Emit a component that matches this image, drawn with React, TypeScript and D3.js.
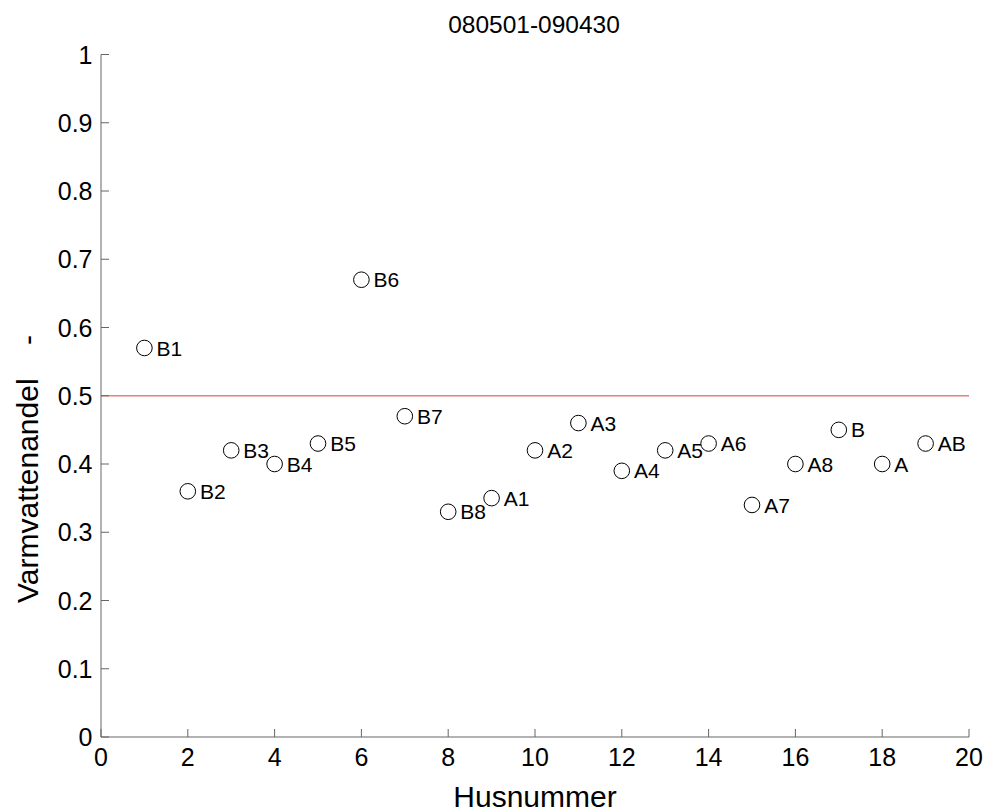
import React from "react";
import * as d3 from "d3";

const labels = ["B1","B2","B3","B4","B5","B6","B7","B8","A1","A2","A3","A4","A5","A6","A7","A8","B","A","AB"];
const husnummer = [1,2,3,4,5,6,7,8,9,10,11,12,13,14,15,16,17,18,19];
const varmvattenandel = [0.57,0.36,0.42,0.40,0.43,0.67,0.47,0.33,0.35,0.42,0.46,0.39,0.42,0.43,0.34,0.40,0.45,0.40,0.43];
const xTicks = [0,2,4,6,8,10,12,14,16,18,20];
const yTicks = [0,0.1,0.2,0.3,0.4,0.5,0.6,0.7,0.8,0.9,1];
const refLine = 0.5;

export default function App() {
  const W = 988, H = 812;
  const left = 101, right = 969, top = 54.5, bottom = 737;
  const x = d3.scaleLinear().domain([0, 20]).range([left, right]);
  const y = d3.scaleLinear().domain([0, 1]).range([bottom, top]);
  const font = "'Liberation Sans', Arial, sans-serif";
  const axisColor = "#666";
  return (
    <svg width={W} height={H} style={{ position: "absolute", left: 0, top: 0, background: "#fff" }} fontFamily={font}>
      <text x={(left + right) / 2 - 1} y={33} textAnchor="middle" fontSize={24.5}>080501-090430</text>
      <line x1={x(0)} x2={x(20)} y1={y(refLine)} y2={y(refLine)} stroke="#f07c7c" strokeWidth={1.5} />
      <line x1={left} x2={left} y1={top} y2={bottom} stroke={axisColor} strokeWidth={1} />
      <line x1={left} x2={right} y1={bottom} y2={bottom} stroke={axisColor} strokeWidth={1} />
      {yTicks.map(t => (
        <g key={"y" + t}>
          <line x1={left} x2={left + 8} y1={y(t)} y2={y(t)} stroke={axisColor} />
          <text x={left - 8.5} y={y(t)} dy="0.36em" textAnchor="end" fontSize={25}>{String(t)}</text>
        </g>
      ))}
      {xTicks.map(t => (
        <g key={"x" + t}>
          <line x1={x(t)} x2={x(t)} y1={bottom} y2={bottom - 8} stroke={axisColor} />
          <text x={x(t)} y={bottom + 29} textAnchor="middle" fontSize={25}>{String(t)}</text>
        </g>
      ))}
      <text x={(left + right) / 2} y={807} textAnchor="middle" fontSize={30}>Husnummer</text>
      <text transform={`translate(38,603) rotate(-90)`} textAnchor="start" fontSize={30} xmlSpace="preserve">Varmvattenandel    -</text>
      {husnummer.map((h, i) => (
        <g key={labels[i]}>
          <circle cx={x(h)} cy={y(varmvattenandel[i])} r={7.8} fill="#fff" stroke="#000" strokeWidth={1} />
          <text x={x(h + 0.28)} y={y(varmvattenandel[i])} dy="0.36em" fontSize={21}>{labels[i]}</text>
        </g>
      ))}
    </svg>
  );
}
